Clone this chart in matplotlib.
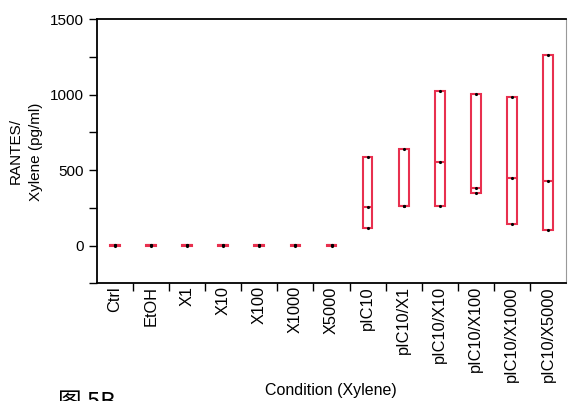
import numpy as np
import matplotlib.pyplot as plt
from matplotlib.ticker import MultipleLocator, FixedLocator

plt.rcParams['font.family'] = ['Liberation Sans', 'DejaVu Sans']

# RANTES (pg/ml), three replicates per condition
conditions = ['Ctrl', 'EtOH', 'X1', 'X10', 'X100', 'X1000', 'X5000',
              'pIC10', 'pIC10/X1', 'pIC10/X10', 'pIC10/X100',
              'pIC10/X1000', 'pIC10/X5000']
rep_low = [0, 0, 0, 0, 0, 0, 0, 116, 261, 261, 350, 146, 106]
rep_mid = [2, 2, 2, 2, 2, 2, 2, 254, 265, 555, 385, 447, 430]
rep_high = [5, 5, 5, 5, 5, 5, 5, 586, 643, 1023, 1005, 987, 1265]

red = '#e8304f'

fig = plt.figure(figsize=(5.68, 4.01), dpi=100)
ax = fig.add_axes([0.1708, 0.2933, 0.8257, 0.6586])

x = np.arange(len(conditions))
lo = np.array(rep_low)
mid = np.array(rep_mid)
hi = np.array(rep_high)
w = 0.27

# min-max box with a line at the median
ax.bar(x, hi - lo, bottom=lo, width=w, color='white', edgecolor=red,
       linewidth=1.5, zorder=2)
ax.hlines(mid, x - w / 2, x + w / 2, color=red, linewidth=1.5, zorder=3)
for arr in (lo, mid, hi):
    ax.plot(x, arr, 'k.', markersize=2.5, zorder=4)

ax.set_xlim(-0.5, 12.5)
ax.set_ylim(-250, 1500)

ax.yaxis.set_major_locator(MultipleLocator(500))
ax.yaxis.set_minor_locator(MultipleLocator(250))
ax.tick_params(axis='y', which='both', direction='out', length=6, width=1,
               labelsize=11)

ax.set_xticks(x)
ax.set_xticklabels(conditions, rotation=90, fontsize=11.8)
ax.xaxis.set_minor_locator(FixedLocator(np.arange(0.5, 12.5, 1)))
ax.tick_params(axis='x', which='major', length=0, pad=2)
ax.tick_params(axis='x', which='minor', direction='out', length=6, width=1)

for s in ['left', 'bottom', 'top']:
    ax.spines[s].set_linewidth(1.3)
ax.spines['right'].set_color('#999999')

ax.set_ylabel('RANTES/\nXylene (pg/ml)', fontsize=11, labelpad=5,
              linespacing=1.55)
fig.text(0.583, 1 - 391 / 401, 'Condition (Xylene)', ha='center',
         va='center', fontsize=11.5)
fig.text(58 / 568, 1 - 391 / 401, '图 5B', ha='left', va='top', fontsize=17,
         family=['Noto Sans CJK SC', 'DejaVu Sans'])

fig.savefig('out.png', dpi=100)
